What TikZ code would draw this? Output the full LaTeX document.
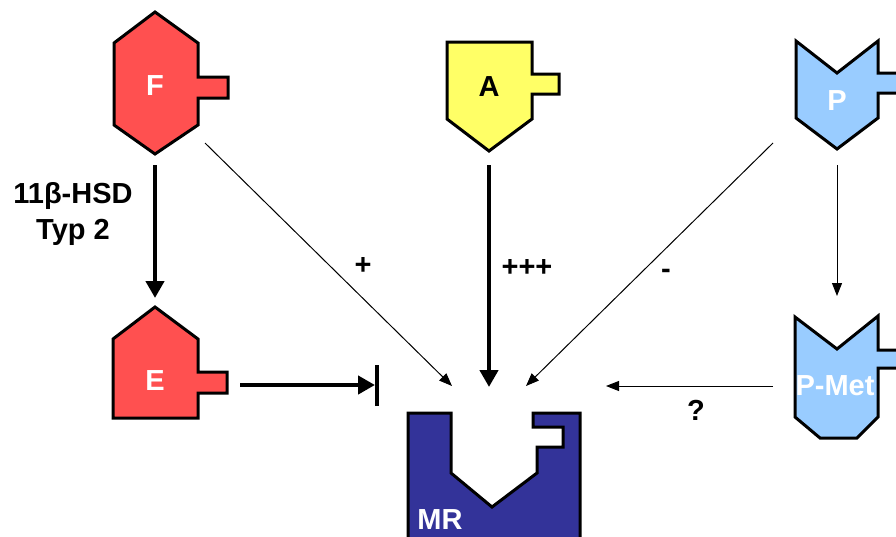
\documentclass[tikz,border=0pt]{standalone}
\usepackage{fontspec}
\setmainfont{Liberation Sans}
\usetikzlibrary{arrows.meta}

\definecolor{cortred}{HTML}{FF5050}
\definecolor{aldoyellow}{HTML}{FFFF66}
\definecolor{progblue}{HTML}{99CCFF}
\definecolor{mrnavy}{HTML}{333399}

\tikzset{
  ligand/.style={draw=black, line width=3pt, line join=miter},
  receptor/.style={draw=black, line width=3pt, fill=mrnavy},
  inlabel/.style={font=\bfseries\fontsize{29}{33}\selectfont, inner sep=0pt},
  sidelabel/.style={font=\bfseries\fontsize{29}{36}\selectfont, inner sep=0pt, align=center},
  strongarrow/.style={line width=4.8pt, -{Triangle[width=18pt,length=17pt]}},
  weakarrow/.style={line width=1pt, -{Triangle[width=10pt,length=13pt]}},
  blockarrow/.style={line width=4.8pt, -{Triangle[width=18pt,length=17pt]}}
}

\begin{document}
\begin{tikzpicture}[x=1pt,y=-1pt]
\useasboundingbox (0,0) rectangle (896,536);

% cortisol (F)
\path[ligand, fill=cortred] (155,12) -- (198,43) -- (198,77) -- (228,77) -- (228,98)
  -- (198,98) -- (198,125) -- (155,154) -- (114,125) -- (114,43) -- cycle;
\node[inlabel, text=white] (F) at (155,86) {F};

% cortisone (E)
\path[ligand, fill=cortred] (155,307) -- (198,339) -- (198,372) -- (227,372) -- (227,393)
  -- (198,393) -- (198,418) -- (113,418) -- (113,339) -- cycle;
\node[inlabel, text=white] (E) at (155,381) {E};

% aldosterone (A)
\path[ligand, fill=aldoyellow] (447,42) -- (532,42) -- (532,74) -- (559,74) -- (559,94)
  -- (532,94) -- (532,119) -- (489,151) -- (447,119) -- cycle;
\node[inlabel, text=black] (A) at (489,87) {A};

% progesterone (P)
\path[ligand, fill=progblue] (796,41) -- (837,73) -- (878,41) -- (878,73) -- (900,73)
  -- (900,93) -- (878,93) -- (878,118) -- (837,149) -- (796,118) -- cycle;
\node[inlabel, text=white] (P) at (837,101) {P};

% progesterone metabolite (P-Met)
\path[ligand, fill=progblue] (795,317) -- (837,349) -- (878,316) -- (878,350) -- (900,350)
  -- (900,368) -- (878,368) -- (878,417) -- (857,438) -- (820,438) -- (795,417) -- cycle;
\node[inlabel, text=white] (PMet) at (835,386) {P-Met};

% mineralocorticoid receptor (MR)
\path[receptor] (408,540) -- (408,413) -- (451,413) -- (451,473) -- (492,507) -- (537,473)
  -- (537,447) -- (563,447) -- (563,427) -- (533,427) -- (533,413) -- (580,413) -- (580,540);
\node[inlabel, text=white] (MR) at (440,520) {MR};

% connector end points
\coordinate (fOut) at (155,165);
\coordinate (eIn) at (155,298);
\coordinate (aOut) at (489,165);
\coordinate (aIn) at (489,387);
\coordinate (fDiag) at (205,143);
\coordinate (fIn) at (452,386);
\coordinate (pDiag) at (773,143);
\coordinate (pIn) at (526,386);
\coordinate (pOut) at (837,165);
\coordinate (pmIn) at (837,296);
\coordinate (pmOut) at (773,386);
\coordinate (pmTip) at (606,386);
\coordinate (eOut) at (240,385);
\coordinate (block) at (377,385);

% conversions and bindings
\draw[strongarrow] (fOut) -- (eIn);
\draw[strongarrow] (aOut) -- (aIn);
\draw[weakarrow] (fDiag) -- (fIn);
\draw[weakarrow] (pDiag) -- (pIn);
\draw[weakarrow] (pOut) -- (pmIn);
\draw[weakarrow] (pmOut) -- (pmTip);
\draw[blockarrow] (eOut) -- ([xshift=-2pt]block);
\draw[line width=4.8pt] ([yshift=-21pt]block) -- ([yshift=20pt]block);

% labels
\node[sidelabel] (hsd) at (73,214) {11β-HSD\\Typ 2};
\node[sidelabel] (plus) at (363,266) {+};
\node[sidelabel] (ppp) at (527,268) {+++};
\node[sidelabel] (minus) at (666,274) {-};
\node[sidelabel] (quest) at (696,410) {?};
\end{tikzpicture}
\end{document}
